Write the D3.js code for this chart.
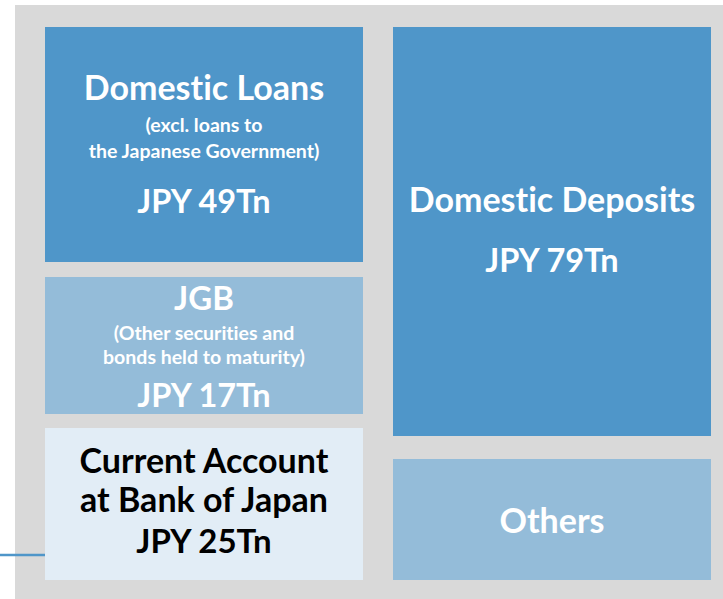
<!DOCTYPE html>
<html><head><meta charset="utf-8">
<script src="https://cdn.jsdelivr.net/npm/d3@7"></script>
<style>html,body{margin:0;padding:0;background:#fff;}svg{display:block;}text{font-variant-ligatures:none;}</style>
</head><body>
<script>
// ---- data ----
const categories = ["Domestic Loans", "JGB", "Current Account at Bank of Japan", "Domestic Deposits", "Others"];
const sides = ["Assets", "Assets", "Assets", "Liabilities", "Liabilities"];
const values = [49, 17, 25, 79, null]; // JPY trillion
const titleLines = [["Domestic Loans"], ["JGB"], ["Current Account", "at Bank of Japan"], ["Domestic Deposits"], ["Others"]];
const noteLines = [["(excl. loans to", "the Japanese Government)"], ["(Other securities and", "bonds held to maturity)"], [], [], []];

// ---- layout (pixels / styles, separate from data) ----
const W = 723, H = 599;
const fills = ["#4F96C9", "#94BCD9", "#E2EDF6", "#4F96C9", "#94BCD9"];
const textCol = ["#fff", "#fff", "#000", "#fff", "#fff"];
const yExtent = [[27, 262], [277, 414], [428, 580], [27, 436], [459, 580]];
// text rows: [type, baselineY, fontSize]
const textRows = [
  [["t", 100, 34], ["n", 132, 19.5], ["n", 158, 19.5], ["v", 213, 32.5]],
  [["t", 310, 33], ["n", 340, 19.5], ["n", 364, 19.5], ["v", 407, 32.5]],
  [["t", 473, 34], ["t", 512, 34], ["v", 553, 33]],
  [["t", 212, 34], ["v", 272, 32.5]],
  [["t", 533, 34]]
];

const svg = d3.select("body").append("svg").attr("width", W).attr("height", H);
svg.append("rect").attr("x", 15).attr("y", 5).attr("width", W - 15).attr("height", H - 5).attr("fill", "#D9D9D9");

const x = d3.scaleBand().domain(["Assets", "Liabilities"]).range([45, 711]).paddingInner(30 / 348).paddingOuter(0);
const y = d3.scaleLinear().domain([0, H]).range([0, H]);

const g = svg.selectAll("g.box").data(categories).join("g").attr("class", "box");
g.append("rect")
  .attr("x", (d, i) => x(sides[i]))
  .attr("y", (d, i) => y(yExtent[i][0]))
  .attr("width", x.bandwidth())
  .attr("height", (d, i) => y(yExtent[i][1]) - y(yExtent[i][0]))
  .attr("fill", (d, i) => fills[i]);

g.each(function (d, i) {
  const cx = x(sides[i]) + x.bandwidth() / 2;
  let ti = 0, ni = 0;
  textRows[i].forEach(r => {
    let s;
    if (r[0] === "t") s = titleLines[i][ti++];
    else if (r[0] === "n") s = noteLines[i][ni++];
    else s = "JPY " + values[i] + "Tn";
    d3.select(this).append("text")
      .attr("x", cx).attr("y", y(r[1]))
      .attr("text-anchor", "middle")
      .attr("font-family", "Lato, 'Open Sans', sans-serif")
      .attr("font-weight", "bold")
      .attr("font-size", r[2])
      .attr("fill", textCol[i])
      .text(s);
  });
});

// connector line on the left
svg.append("line").attr("x1", 0).attr("x2", 45).attr("y1", 555).attr("y2", 555)
  .attr("stroke", "#4F96C9").attr("stroke-width", 2.5);
</script>
</body></html>
